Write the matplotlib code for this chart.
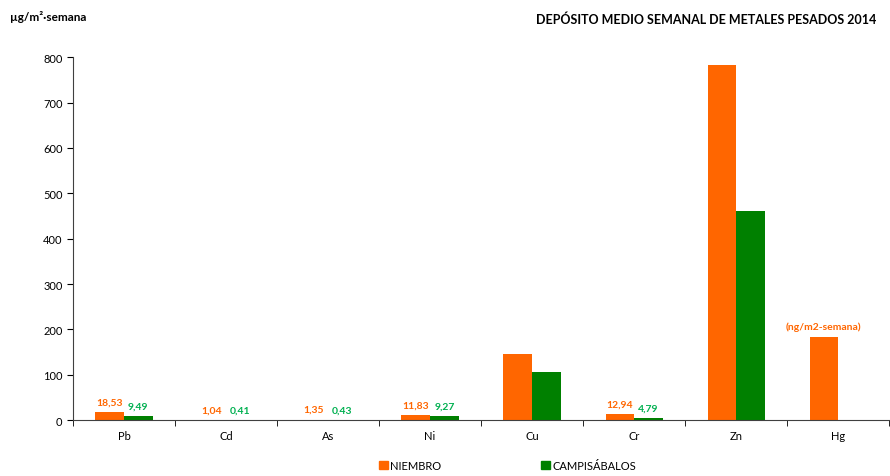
import matplotlib
matplotlib.use('Agg')
import matplotlib.pyplot as plt
from matplotlib.patches import Patch
import numpy as np

plt.rcParams['font.family'] = ['Lato', 'DejaVu Sans']

metales = ['Pb', 'Cd', 'As', 'Ni', 'Cu', 'Cr', 'Zn', 'Hg']
niembro = [18.53, 1.04, 1.35, 11.83, 145, 12.94, 783, 184]
campisabalos = [9.49, 0.41, 0.43, 9.27, 106, 4.79, 460, 0]
# labels shown above the bars (only for the small values)
etiq_niembro = ['18,53', '1,04', '1,35', '11,83', '', '12,94', '', '(ng/m2-semana)']
etiq_campis = ['9,49', '0,41', '0,43', '9,27', '', '4,79', '', '']

naranja = '#FF6600'
verde = '#008000'
verde_txt = '#00B050'

fig = plt.figure(figsize=(8.9, 4.77), dpi=100)
ax = fig.add_axes([0.082, 0.117, 0.917, 0.761])

x = np.arange(len(metales))
w = 0.28
ax.bar(x - w/2, niembro, w, color=naranja)
ax.bar(x[:-1] + w/2, campisabalos[:-1], w, color=verde)

for i in range(len(metales)):
    if etiq_niembro[i]:
        ax.annotate(etiq_niembro[i], (x[i] - w/2, niembro[i]), xytext=(0, 4),
                    textcoords='offset points', ha='center', va='bottom',
                    fontsize=7.5, fontweight='bold', color=naranja)
    if etiq_campis[i]:
        ax.annotate(etiq_campis[i], (x[i] + w/2, campisabalos[i]), xytext=(0, 4),
                    textcoords='offset points', ha='center', va='bottom',
                    fontsize=7.5, fontweight='bold', color=verde_txt)

ax.set_xlim(-0.5, len(metales) - 0.5)
ax.set_ylim(0, 800)
ax.set_yticks(range(0, 801, 100))
ax.tick_params(axis='y', labelsize=8, length=4, direction='out')
ax.set_xticks(x)
ax.set_xticklabels(metales)
ax.tick_params(axis='x', which='major', length=0, labelsize=8, pad=7)
ax.set_xticks(np.arange(-0.5, len(metales), 1), minor=True)
ax.tick_params(axis='x', which='minor', length=4, direction='out')
for s in ['top', 'right']:
    ax.spines[s].set_visible(False)
ax.spines['left'].set_color('#404040')
ax.spines['bottom'].set_color('#404040')

fig.text(0.011, 0.965, 'µg/m²·semana', fontsize=8.5, fontweight='bold', va='center')
fig.text(0.985, 0.958, 'DEPÓSITO MEDIO SEMANAL DE METALES PESADOS 2014',
         fontsize=9, fontweight='bold', ha='right', va='center')

handles = [Patch(color=naranja, label='NIEMBRO'), Patch(color=verde, label='CAMPISÁBALOS')]
fig.legend(handles=handles, loc='center', bbox_to_anchor=(0.57, 0.022), ncol=2,
           frameon=False, fontsize=8, handlelength=0.8, handleheight=0.8,
           handletextpad=0.2, columnspacing=9)

fig.savefig('out.png', dpi=100)
